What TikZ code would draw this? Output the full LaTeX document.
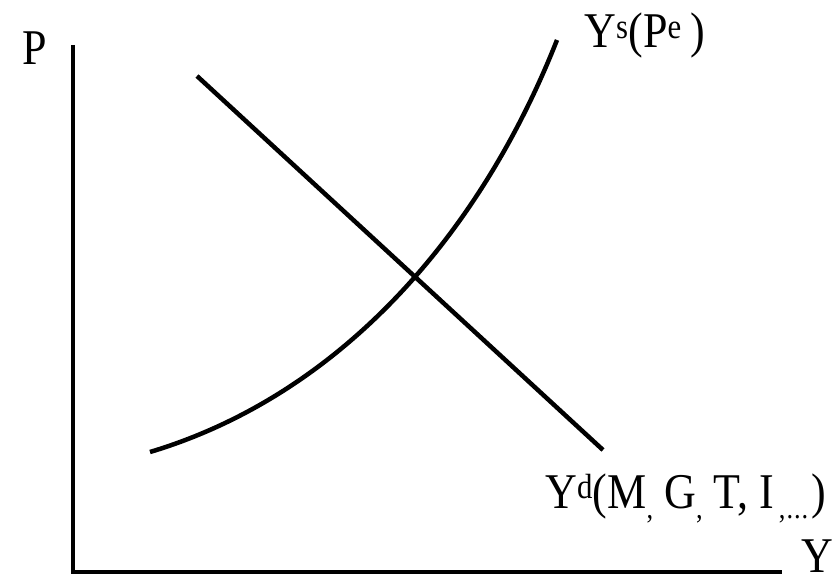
\documentclass[tikz,border=0pt]{standalone}
\usepackage{fontspec}
\setmainfont{Liberation Serif}[FakeStretch=0.88]

\newcommand{\lowc}{\raisebox{-0.2em}{\fontsize{30}{30}\selectfont ,}}

\begin{document}
\begin{tikzpicture}[x=1pt, y=-1pt, line width=4.5pt]
  \useasboundingbox (0,0) rectangle (835,577);
  \tikzset{lbl/.style={inner sep=0pt, anchor=base west, font=\fontsize{50}{54}\selectfont}}

  \coordinate (O) at (73,572);
  \coordinate (Ptop) at (73,45);
  \coordinate (Yend) at (782,572);
  \draw (Ptop) -- (O) -- (Yend);
  \node[lbl] (P) at (20,65) {P};
  \node[lbl] (Y) at (799,572) {Y};

  % demand
  \coordinate (d1) at (197,76);
  \coordinate (d2) at (603,450);
  \draw (d1) -- (d2);

  % supply
  \coordinate (s1) at (150,452);
  \coordinate (s2) at (557,40);
  \draw (s1) .. controls (340,395) and (480,235) .. (s2);

  \node[lbl] (Ys) at (582,48) {Y\textsuperscript{s}(P\textsuperscript{e}\,)};
  \node[lbl] (Yd) at (543,508) {Y\textsuperscript{d}(M\lowc\ G\lowc\ T, I\kern5pt\raisebox{-0.2em}{\fontsize{30}{30}\selectfont ,\kern1pt.\kern1pt.\kern1pt.}\kern3pt)};
\end{tikzpicture}
\end{document}
